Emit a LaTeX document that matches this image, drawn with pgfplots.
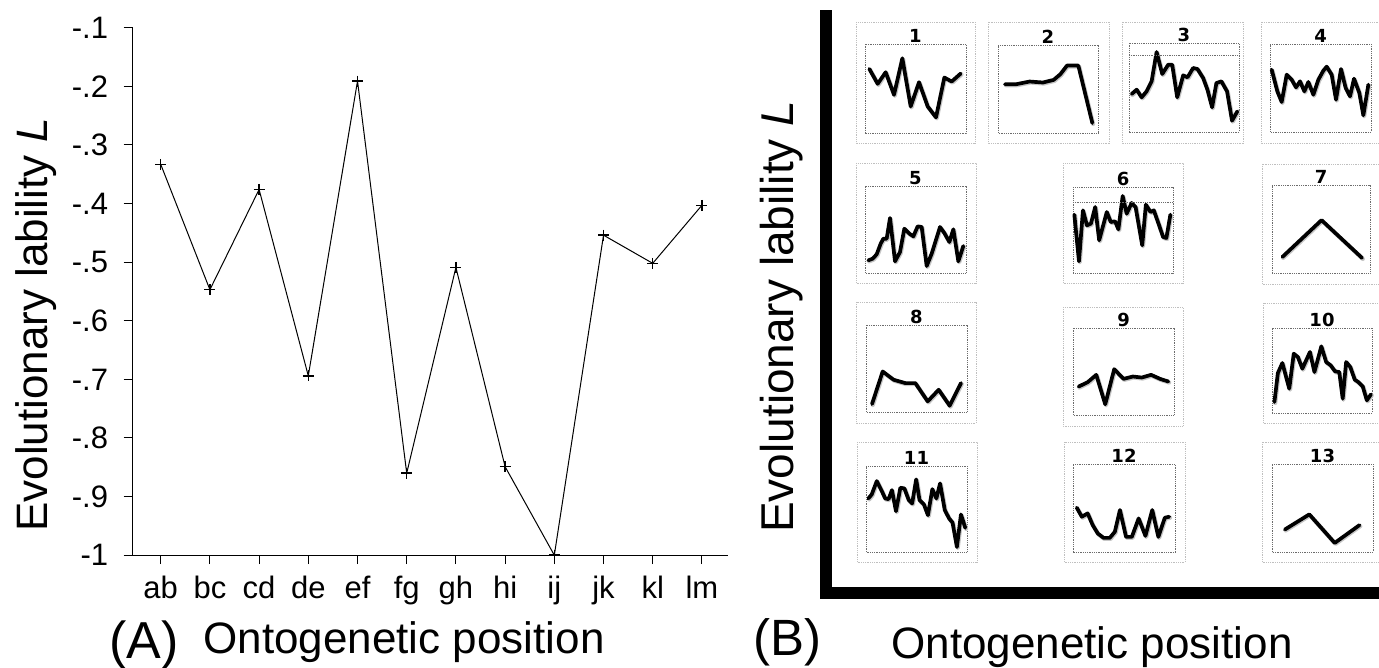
\documentclass[border=0pt]{standalone}
\usepackage{pgfplots}
\pgfplotsset{compat=1.18}
\usepackage{fontspec}
\setmainfont{Liberation Sans}
\newfontfamily\numfont{DejaVu Sans}

% #1 title, #2 L, #3 T, #4 R, #5 B (picture px), #6 limits, #7 extra, #8 coordinates
\newcommand{\mini}[8]{%
\begin{axis}[at={(#2pt,-#5pt)}, anchor=south west, scale only axis,
  width={#4pt-#2pt}, height={#5pt-#3pt},
  axis line style={gray!85!black, dash pattern=on 0.9pt off 0.9pt, line width=0.9pt},
  ticks=none, clip=false, #6]
  \addplot[gray!45, line width=4.2pt, line join=round, line cap=round, xshift=0.8pt, yshift=-1pt] coordinates {#8};
  \addplot[black, line width=3.7pt, line join=round, line cap=round] coordinates {#8};
  \node[font=\numfont\bfseries\fontsize{18}{18}\selectfont, anchor=base, inner sep=0pt, yshift=1.2pt] at (rel axis cs:0.5,1) {#1};
  #7
\end{axis}}

\begin{document}
\begin{tikzpicture}
\useasboundingbox (0pt,0pt) rectangle (1379pt,-668pt);

% ---------------- Panel A ----------------
\begin{axis}[at={(132.6pt,-555.2pt)}, anchor=south west, scale only axis,
  width=595.4pt, height=527.5pt,
  xmin=-0.571, xmax=11.53, ymin=-1, ymax=-0.1,
  axis x line=bottom, axis y line=left,
  axis line style={-, line width=1pt},
  xtick={0,1,2,3,4,5,6,7,8,9,10,11},
  xticklabels={ab,bc,cd,de,ef,fg,gh,hi,ij,jk,kl,lm},
  ytick={-1,-0.9,-0.8,-0.7,-0.6,-0.5,-0.4,-0.3,-0.2,-0.1},
  yticklabels={-1,-.9,-.8,-.7,-.6,-.5,-.4,-.3,-.2,-.1},
  tick align=outside, major tick length=9pt,
  tick style={black, line width=1pt},
  ticklabel style={font=\fontsize{31}{31}\selectfont},
  yticklabel style={xshift=-12pt},
  xticklabel style={yshift=-8pt},
  /pgf/number format/assume math mode=true,
  clip=false]
\addplot[black, line width=1pt, mark=+, mark size=5.5pt, mark options={line width=1.5pt}]
 coordinates {(0,-0.333) (1,-0.547) (2,-0.376) (3,-0.694) (4,-0.191) (5,-0.860)
              (6,-0.509) (7,-0.849) (8,-1.0) (9,-0.454) (10,-0.502) (11,-0.403)};
\end{axis}

\node[rotate=90, anchor=base west, inner sep=0pt, font=\fontsize{44}{44}\selectfont]
  at (47pt,-532pt) {Evolutionary lability \textit{L}};
\node[anchor=base west, inner sep=0pt, font=\fontsize{52}{52}\selectfont] at (109pt,-658pt) {(A)};
\node[anchor=base, inner sep=0pt, font=\fontsize{44}{44}\selectfont] at (404pt,-653pt) {Ontogenetic position};

% ---------------- Panel B ----------------
\fill[black] (820pt,-10pt) rectangle (832pt,-599pt);
\fill[black] (820pt,-587pt) rectangle (1379pt,-599pt);
\node[rotate=90, anchor=base west, inner sep=0pt, font=\fontsize{46}{46}\selectfont]
  at (793pt,-533pt) {Evolutionary lability \textit{L}};
\node[anchor=base west, inner sep=0pt, font=\fontsize{51}{51}\selectfont] at (753pt,-655pt) {(B)};
\node[anchor=base, inner sep=0pt, font=\fontsize{44}{44}\selectfont] at (1092pt,-658pt) {Ontogenetic position};

% outer boxes
\begin{scope}[gray!50, dash pattern=on 0.9pt off 0.9pt, line width=0.9pt]
\draw (856pt,-22pt) rectangle (975pt,-143pt);
\draw (988pt,-22pt) rectangle (1109pt,-143pt);
\draw (1122pt,-22pt) rectangle (1243pt,-143pt);
\draw (1261pt,-22pt) rectangle (1384pt,-143pt);
\draw (856pt,-163pt) rectangle (976pt,-283pt);
\draw (1063pt,-163pt) rectangle (1183pt,-283pt);
\draw (1262pt,-164pt) rectangle (1384pt,-284pt);
\draw (856pt,-302pt) rectangle (976pt,-423pt);
\draw (1063pt,-307pt) rectangle (1183pt,-426pt);
\draw (1263pt,-303pt) rectangle (1384pt,-423pt);
\draw (857pt,-442pt) rectangle (977pt,-562pt);
\draw (1064pt,-442pt) rectangle (1185pt,-562pt);
\draw (1262pt,-442pt) rectangle (1384pt,-562pt);
\end{scope}

\mini{1}{865}{44}{966}{133}{xmin=45,xmax=348,ymin=-355,ymax=-87}{}
 {(58,-162) (83,-207) (107,-172) (132,-240) (157,-130) (182,-275) (207,-202) (233,-275) (258,-308) (283,-188) (305,-200) (332,-176)}

\mini{2}{998}{45}{1098}{133}{xmin=445,xmax=745,ymin=-355,ymax=-90}{}
 {(466,-208) (500,-208) (540,-200) (580,-203) (612,-195) (632,-178) (652,-152) (686,-152) (728,-325)}

\mini{3}{1129}{43}{1239}{132}{xmin=42,xmax=373,ymin=-352,ymax=-85}
 {\draw[gray!85!black, dash pattern=on 0.9pt off 0.9pt, line width=0.9pt] (rel axis cs:0,0.858) -- (rel axis cs:1,0.858);}
 {(50,-238) (65,-225) (80,-248) (95,-230) (110,-200) (125,-112) (142,-178) (160,-150) (172,-150) (187,-248) (205,-182) (218,-188) (235,-160) (248,-163) (265,-190) (278,-225) (292,-278) (305,-205) (320,-200) (337,-230) (352,-318) (368,-290)}

\mini{4}{1270}{44}{1371}{132}{xmin=465,xmax=768,ymin=-352,ymax=-88}{}
 {(470,-165) (487,-230) (500,-262) (515,-180) (530,-195) (543,-218) (555,-200) (568,-230) (580,-202) (595,-240) (610,-195) (625,-168) (635,-156) (650,-180) (663,-255) (678,-163) (692,-220) (705,-245) (717,-192) (733,-235) (745,-302) (760,-210)}

\mini{5}{865}{186}{966}{273}{xmin=45,xmax=348,ymin=-353,ymax=-92}{}
 {(55,-315) (68,-310) (80,-297) (92,-265) (100,-250) (110,-250) (120,-188) (135,-318) (150,-290) (163,-220) (178,-235) (190,-243) (203,-213) (215,-215) (230,-332) (245,-295) (270,-215) (283,-233) (298,-260) (310,-222) (325,-318) (340,-272)}

\mini{6}{1073}{187}{1173}{273}{xmin=668,xmax=970,ymin=-353,ymax=-95}
 {\draw[gray!85!black, dash pattern=on 0.9pt off 0.9pt, line width=0.9pt] (rel axis cs:0,0.826) -- (rel axis cs:1,0.826);}
 {(672,-178) (686,-318) (698,-165) (710,-210) (722,-205) (735,-155) (747,-255) (770,-170) (782,-200) (795,-198) (805,-222) (818,-122) (830,-175) (845,-143) (857,-155) (877,-270) (888,-148) (902,-170) (912,-165) (928,-210) (940,-245) (950,-248) (962,-178)}

\mini{7}{1272}{185}{1370}{273}{xmin=1255,xmax=1538,ymin=-368,ymax=-105}{}
 {(1285,-320) (1398,-210) (1515,-323)}

\mini{8}{866}{325}{967}{412}{xmin=47,xmax=350,ymin=-352,ymax=-90}{}
 {(65,-328) (97,-230) (130,-255) (165,-265) (195,-265) (232,-320) (265,-285) (298,-333) (332,-265)}

\mini{9}{1073}{328}{1174}{415}{xmin=668,xmax=972,ymin=-360,ymax=-100}{}
 {(685,-275) (712,-262) (738,-240) (765,-328) (792,-223) (820,-252) (848,-245) (875,-248) (903,-240) (930,-252) (955,-260)}

\mini{10}{1272}{328}{1372}{413}{xmin=1255,xmax=1545,ymin=-368,ymax=-113}{}
 {(1262,-335) (1272,-248) (1285,-218) (1305,-295) (1318,-190) (1330,-200) (1343,-235) (1365,-185) (1378,-245) (1398,-168) (1412,-215) (1425,-225) (1438,-243) (1450,-245) (1460,-325) (1470,-215) (1482,-230) (1495,-268) (1505,-275) (1518,-288) (1530,-330) (1542,-312)}

\mini{11}{866}{466}{967}{552}{xmin=48,xmax=348,ymin=-350,ymax=-93}{}
 {(55,-190) (65,-178) (80,-138) (95,-168) (105,-190) (115,-192) (125,-165) (137,-228) (150,-158) (162,-160) (175,-195) (185,-205) (197,-133) (207,-195) (220,-208) (232,-240) (245,-162) (257,-190) (268,-145) (282,-225) (295,-250) (305,-262) (318,-335) (330,-238) (343,-278)}

\mini{12}{1073}{464}{1175}{552}{xmin=662,xmax=962,ymin=-350,ymax=-88}{}
 {(673,-218) (688,-245) (705,-235) (720,-270) (735,-295) (752,-308) (770,-308) (785,-290) (800,-225) (818,-305) (835,-305) (855,-250) (875,-302) (895,-225) (913,-305) (932,-248) (945,-245)}

\mini{13}{1272}{464}{1373}{552}{xmin=1252,xmax=1550,ymin=-350,ymax=-88}{}
 {(1290,-283) (1362,-238) (1437,-323) (1510,-270)}

\end{tikzpicture}
\end{document}
